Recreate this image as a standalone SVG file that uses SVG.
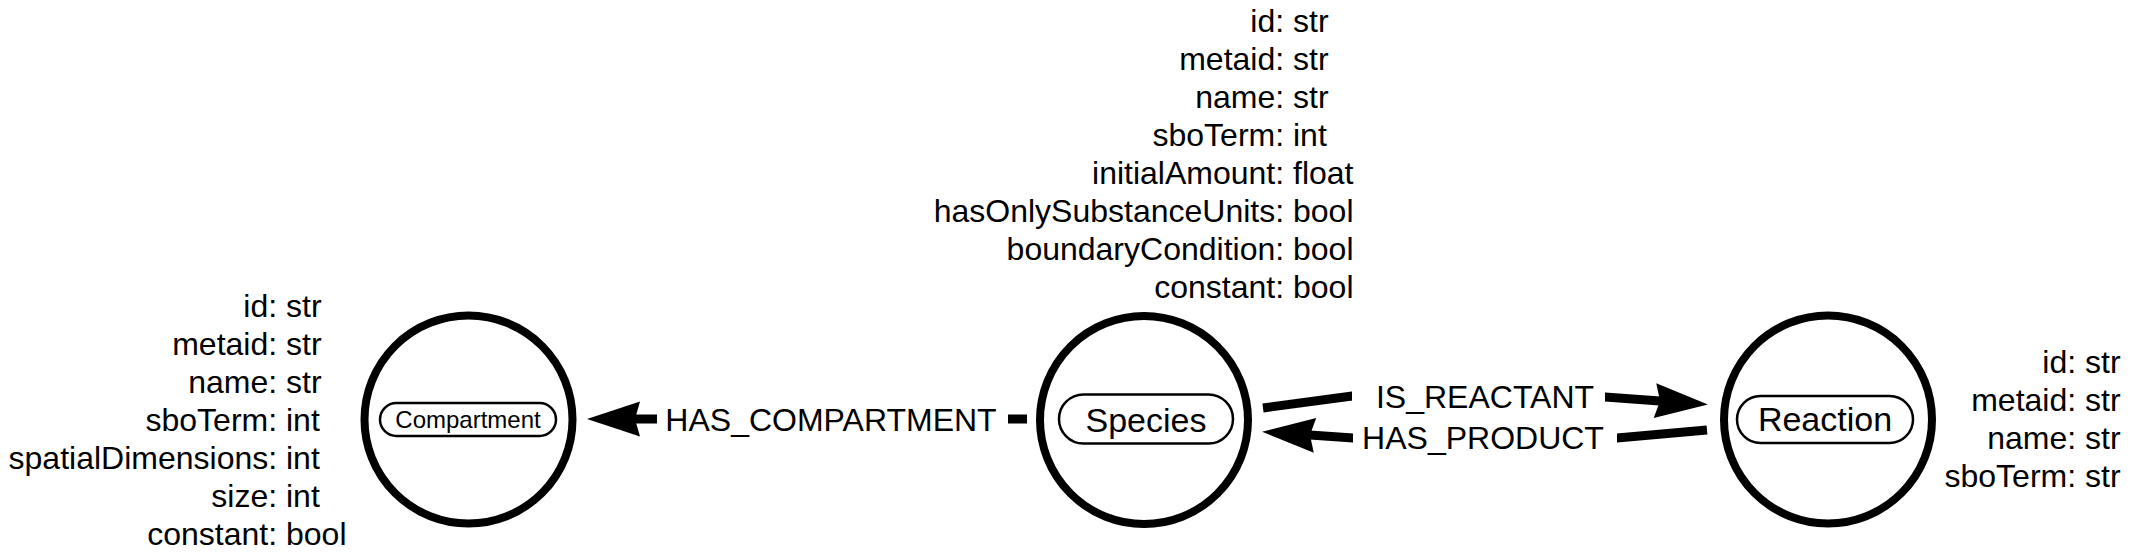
<svg xmlns="http://www.w3.org/2000/svg" width="2132" height="554" viewBox="0 0 2132 554">
<style>
text{font-family:"Liberation Sans",Arial,Helvetica,sans-serif;fill:#000}
.attr{font-size:32px}
.lbl{font-size:32px;text-anchor:middle}
.node{fill:#fff;stroke:#000;stroke-width:8}
.pill{fill:#fff;stroke:#000;stroke-width:2.5}
.edge{fill:none;stroke:#000;stroke-width:9}
.bg{fill:#fff}
</style>
<defs>
<marker id="arr" markerUnits="userSpaceOnUse" viewBox="-10 -20 60 40" refX="0" refY="0" markerWidth="60" markerHeight="40" orient="auto">
<path d="M48,0 L-5,-17.5 L0,0 L-5,17.5 Z" fill="#000"/>
</marker>
</defs>
<rect width="2132" height="554" fill="#fff"/>
<g id="edges">
<g id="e-has-compartment">
<path class="edge" d="M1027,419 L635,419" marker-end="url(#arr)"/>
<rect class="bg" x="657" y="400" width="351" height="38"/>
<text class="lbl" x="831" y="430.5">HAS_COMPARTMENT</text>
</g>
<g id="e-is-reactant">
<path class="edge" d="M1263,408 L1352,396 L1605,397 L1660,401" marker-end="url(#arr)"/>
<rect class="bg" x="1352" y="378" width="253" height="36"/>
<text class="lbl" x="1485" y="408">IS_REACTANT</text>
</g>
<g id="e-has-product">
<path class="edge" d="M1707,430 L1617,438 L1353,438 L1310,435" marker-end="url(#arr)"/>
<rect class="bg" x="1353" y="422" width="264" height="34"/>
<text class="lbl" x="1483" y="448.5">HAS_PRODUCT</text>
</g>
</g>
<g id="compartment">
<circle class="node" cx="468.5" cy="419.5" r="104"/>
<rect class="pill" x="380" y="403" width="176" height="33" rx="16.5"/>
<text x="468" y="428" font-size="24" text-anchor="middle">Compartment</text>
<text class="attr" xml:space="preserve" y="317"><tspan x="286" text-anchor="end">id: </tspan><tspan x="286">str</tspan></text>
<text class="attr" xml:space="preserve" y="355"><tspan x="286" text-anchor="end">metaid: </tspan><tspan x="286">str</tspan></text>
<text class="attr" xml:space="preserve" y="393"><tspan x="286" text-anchor="end">name: </tspan><tspan x="286">str</tspan></text>
<text class="attr" xml:space="preserve" y="431"><tspan x="286" text-anchor="end">sboTerm: </tspan><tspan x="286">int</tspan></text>
<text class="attr" xml:space="preserve" y="469"><tspan x="286" text-anchor="end">spatialDimensions: </tspan><tspan x="286">int</tspan></text>
<text class="attr" xml:space="preserve" y="507"><tspan x="286" text-anchor="end">size: </tspan><tspan x="286">int</tspan></text>
<text class="attr" xml:space="preserve" y="545"><tspan x="286" text-anchor="end">constant: </tspan><tspan x="286">bool</tspan></text>
</g>
<g id="species">
<circle class="node" cx="1144" cy="420" r="104"/>
<rect class="pill" x="1059" y="394.5" width="174" height="49" rx="24.5"/>
<text x="1146" y="431.5" font-size="34" text-anchor="middle">Species</text>
<text class="attr" xml:space="preserve" y="32"><tspan x="1293" text-anchor="end">id: </tspan><tspan x="1293">str</tspan></text>
<text class="attr" xml:space="preserve" y="70"><tspan x="1293" text-anchor="end">metaid: </tspan><tspan x="1293">str</tspan></text>
<text class="attr" xml:space="preserve" y="108"><tspan x="1293" text-anchor="end">name: </tspan><tspan x="1293">str</tspan></text>
<text class="attr" xml:space="preserve" y="146"><tspan x="1293" text-anchor="end">sboTerm: </tspan><tspan x="1293">int</tspan></text>
<text class="attr" xml:space="preserve" y="184"><tspan x="1293" text-anchor="end">initialAmount: </tspan><tspan x="1293">float</tspan></text>
<text class="attr" xml:space="preserve" y="222"><tspan x="1293" text-anchor="end">hasOnlySubstanceUnits: </tspan><tspan x="1293">bool</tspan></text>
<text class="attr" xml:space="preserve" y="260"><tspan x="1293" text-anchor="end">boundaryCondition: </tspan><tspan x="1293">bool</tspan></text>
<text class="attr" xml:space="preserve" y="298"><tspan x="1293" text-anchor="end">constant: </tspan><tspan x="1293">bool</tspan></text>
</g>
<g id="reaction">
<circle class="node" cx="1828" cy="419.5" r="104"/>
<rect class="pill" x="1737" y="396" width="176" height="47" rx="23.5"/>
<text x="1825" y="431" font-size="34" text-anchor="middle">Reaction</text>
<text class="attr" xml:space="preserve" y="373"><tspan x="2085" text-anchor="end">id: </tspan><tspan x="2085">str</tspan></text>
<text class="attr" xml:space="preserve" y="411"><tspan x="2085" text-anchor="end">metaid: </tspan><tspan x="2085">str</tspan></text>
<text class="attr" xml:space="preserve" y="449"><tspan x="2085" text-anchor="end">name: </tspan><tspan x="2085">str</tspan></text>
<text class="attr" xml:space="preserve" y="487"><tspan x="2085" text-anchor="end">sboTerm: </tspan><tspan x="2085">str</tspan></text>
</g>
</svg>
